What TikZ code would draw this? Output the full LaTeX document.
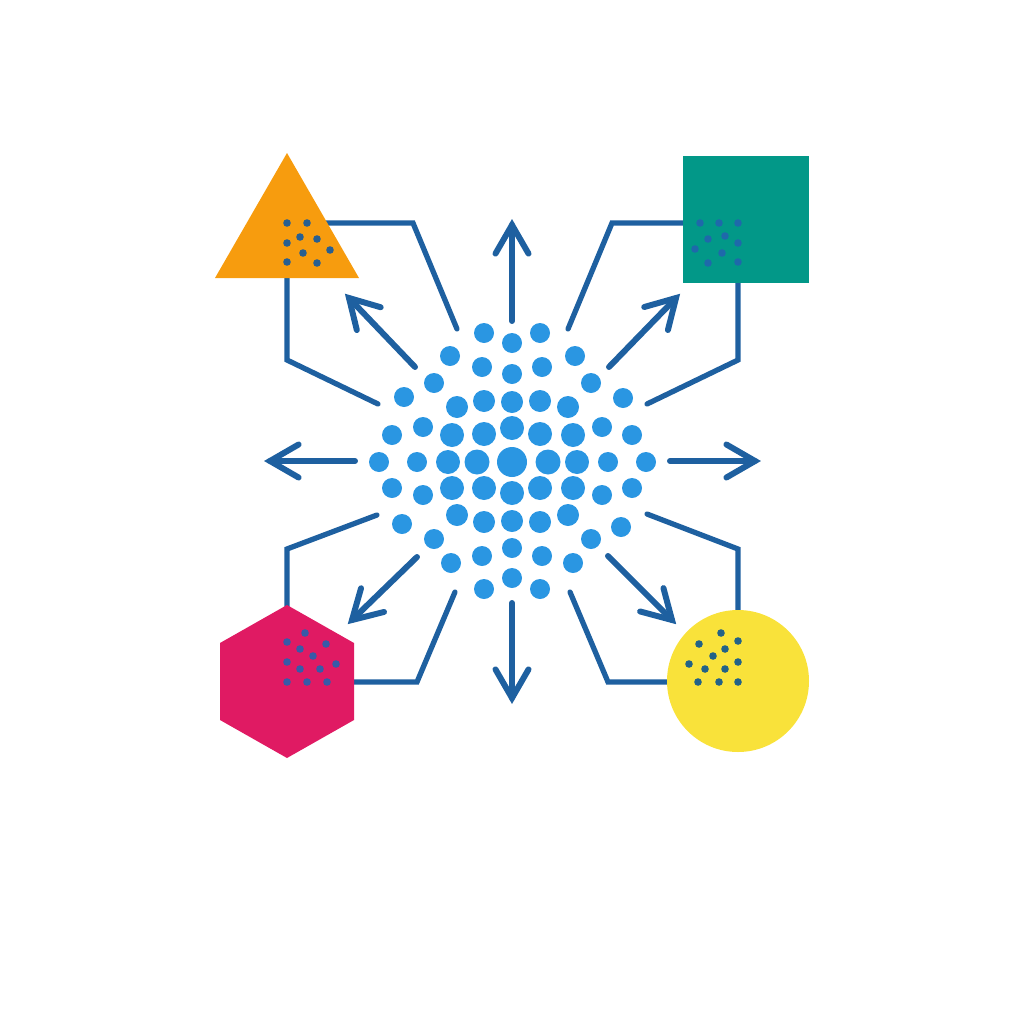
\documentclass[tikz,border=0pt]{standalone}
\usetikzlibrary{calc}
\definecolor{lineblue}{RGB}{30,96,160}
\definecolor{dotblue}{RGB}{42,150,226}
\definecolor{orng}{RGB}{247,156,14}
\definecolor{tealsq}{RGB}{2,152,136}
\definecolor{mag}{RGB}{224,26,99}
\definecolor{yel}{RGB}{249,226,58}
\definecolor{tdot}{RGB}{40,95,145}
\definecolor{sdot}{RGB}{30,105,170}
\definecolor{hdot}{RGB}{55,90,168}
\definecolor{cdot}{RGB}{34,98,135}
\begin{document}
\begin{tikzpicture}[x=0.01cm,y=-0.01cm,
  conn/.style={draw=lineblue, line width=1.5pt, line join=miter, line cap=round},
  shaft/.style={draw=lineblue, line width=1.7pt, line cap=round},
  head/.style={draw=lineblue, line width=1.7pt, line cap=round, line join=miter},
  bdot/.style={fill=dotblue},
  shapedot/.style={fill=#1}
]
\useasboundingbox (0,0) rectangle (1024,1024);

% ---------- connectors ----------
\coordinate (t1a) at (325,223); \coordinate (t1b) at (413,223); \coordinate (t1c) at (457,329);
\coordinate (t2a) at (287,275); \coordinate (t2b) at (287,360); \coordinate (t2c) at (378,404);
\coordinate (s1a) at (686,223); \coordinate (s1b) at (612,223); \coordinate (s1c) at (568,329);
\coordinate (s2a) at (738,280); \coordinate (s2b) at (738,360); \coordinate (s2c) at (647,404);
\coordinate (h1a) at (287,609); \coordinate (h1b) at (287,549); \coordinate (h1c) at (377,515);
\coordinate (h2a) at (350,682); \coordinate (h2b) at (417,682); \coordinate (h2c) at (455,592);
\coordinate (c1a) at (738,614); \coordinate (c1b) at (738,549); \coordinate (c1c) at (647,514);
\coordinate (c2a) at (671,682); \coordinate (c2b) at (608,682); \coordinate (c2c) at (570,592);
\foreach \n in {t1,t2,s1,s2,h1,h2,c1,c2}
  \draw[conn] (\n a) -- (\n b) -- (\n c);

% ---------- arrows ----------
\foreach \i/\ax/\ay/\bx/\by in {
  up/512/321/512/225, dn/512/603/512/698, lf/355/461/270/461, rt/670/461/755/461,
  nw/415/367/349/298, ne/609/367/676/298, sw/417/557/352/620, se/608/556/672/620}{
  \coordinate (tail\i) at (\ax,\ay);
  \coordinate (tip\i) at (\bx,\by);
  \draw[shaft] (tail\i) -- (tip\i);
  \draw[head] ($(tip\i)!0.33cm!30:(tail\i)$) -- (tip\i) -- ($(tip\i)!0.33cm!-30:(tail\i)$);
}

% ---------- central dot cluster ----------
\foreach \x/\y in {484/333,540/333,512/343,450/356,575/356,482/367,542/367,512/374,
  434/383,591/383,404/397,623/398,392/435,632/435,379/462,646/462,392/488,632/488,
  402/524,621/527,434/539,591/539,451/563,573/563,482/556,542/556,512/548,484/589,
  512/578,540/589,423/427,602/427,417/462,608/462,423/495,602/495}
  \fill[bdot] (\x,\y) circle[radius=10];
\foreach \x/\y in {457/407,568/407,484/401,512/402,540/401,457/515,568/515,484/522,512/521,540/522}
  \fill[bdot] (\x,\y) circle[radius=11];
\foreach \x/\y in {452/435,573/435,484/434,540/434,512/428,448/462,577/462,452/488,573/488,484/488,540/488,512/493}
  \fill[bdot] (\x,\y) circle[radius=12];
\foreach \x/\y in {477/462,548/462}
  \fill[bdot] (\x,\y) circle[radius=12.5];
\fill[bdot] (512,462) circle[radius=15];

% ---------- shapes ----------
\fill[orng] (287,153) -- (359,278) -- (215,278) -- cycle;
\fill[tealsq] (683,156) rectangle (809,283);
\fill[mag] (287,605) -- (354,643) -- (354,720) -- (287,758) -- (220,720) -- (220,643) -- cycle;
\fill[yel] (738,681) circle[radius=71];

% ---------- dots inside shapes ----------
\foreach \x/\y in {287/223,307/223,287/243,300/237,317/239,303/253,330/250,287/262,317/263}
  \fill[shapedot=tdot] (\x,\y) circle[radius=3.8];
\foreach \x/\y in {700/223,719/223,738/223,708/239,725/236,738/243,695/249,722/253,708/263,738/262}
  \fill[shapedot=sdot] (\x,\y) circle[radius=3.8];
\foreach \x/\y in {305/633,287/642,326/644,300/649,313/656,287/662,336/664,300/669,320/669,287/682,307/682,327/682}
  \fill[shapedot=hdot] (\x,\y) circle[radius=3.8];
\foreach \x/\y in {721/633,699/644,738/641,725/649,713/656,689/664,705/669,725/669,738/662,698/682,719/682,738/682}
  \fill[shapedot=cdot] (\x,\y) circle[radius=3.8];
\end{tikzpicture}
\end{document}
